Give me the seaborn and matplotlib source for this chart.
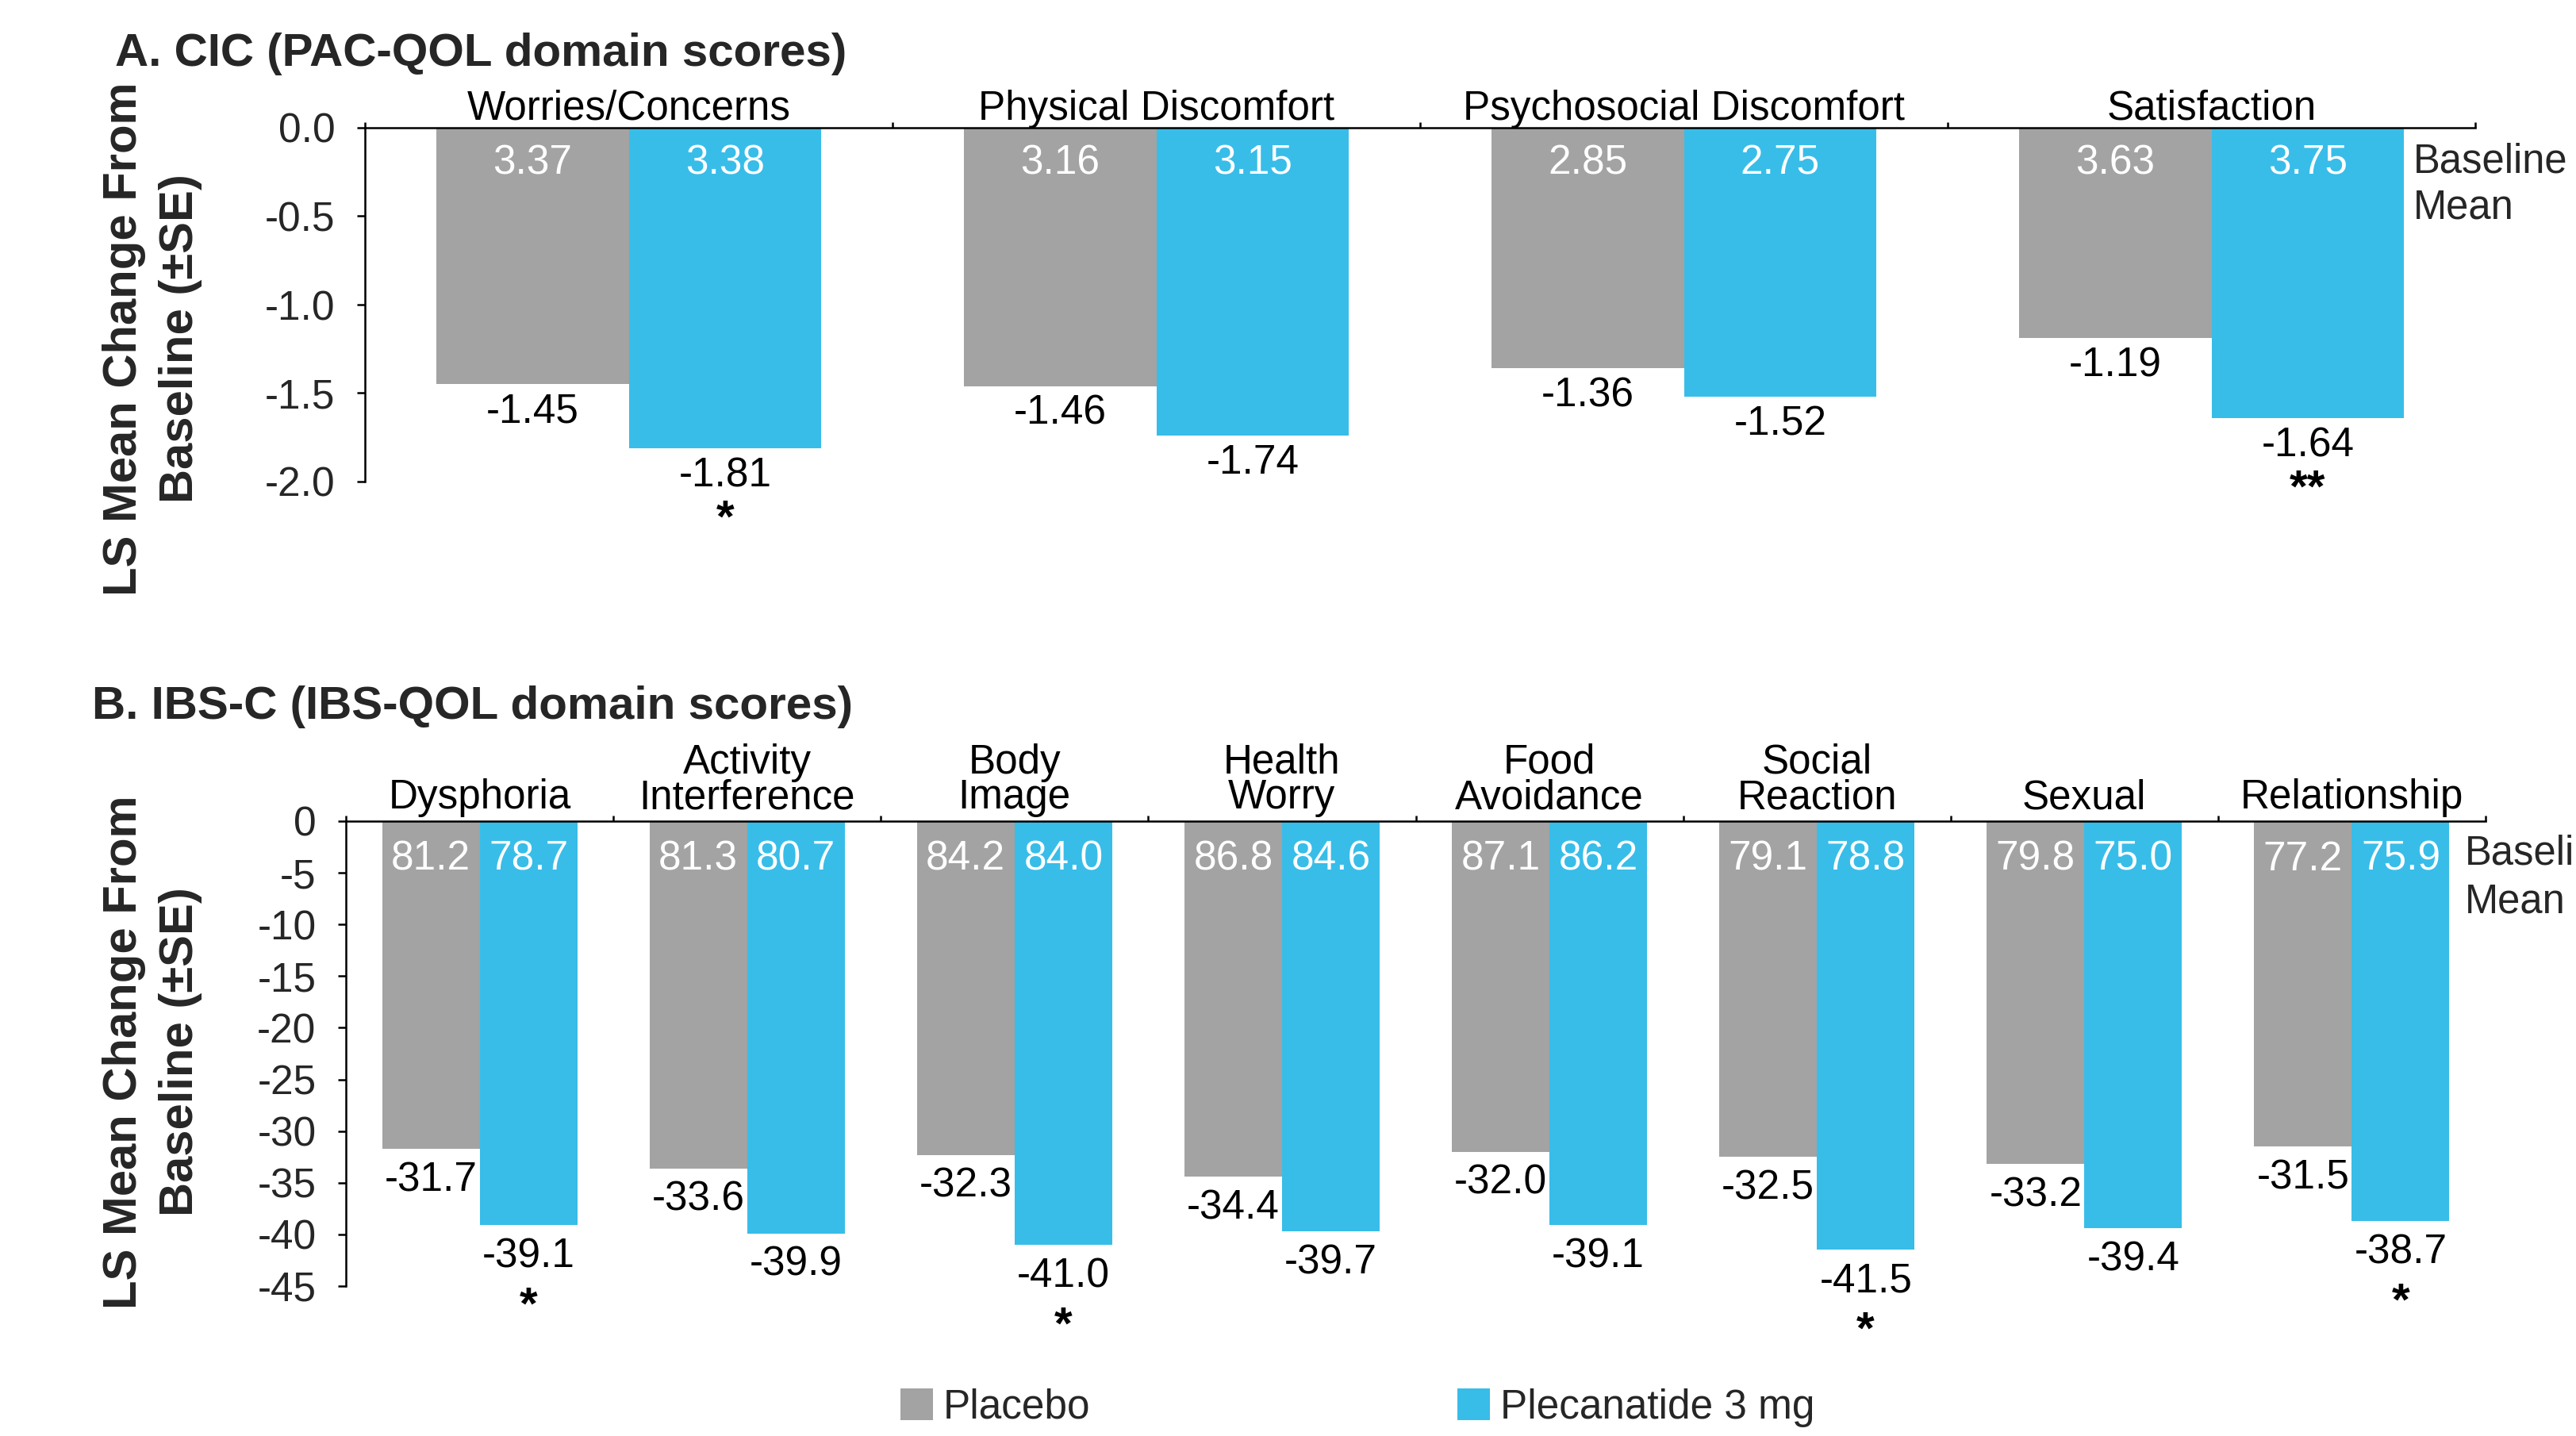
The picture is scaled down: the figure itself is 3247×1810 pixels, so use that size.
import numpy as np
import pandas as pd
import matplotlib
matplotlib.use("Agg")
import matplotlib.pyplot as plt
from matplotlib.ticker import FormatStrFormatter
import seaborn as sns

# ---- data -----------------------------------------------------------------
groups = ["Placebo", "Plecanatide 3 mg"]
colors = ["#a2a3a2", "#38bde9"]

cic_domains = ["Worries/Concerns", "Physical Discomfort",
               "Psychosocial Discomfort", "Satisfaction"]
cic_placebo = [-1.45, -1.46, -1.36, -1.19]
cic_plec = [-1.81, -1.74, -1.52, -1.64]
cic_base_placebo = [3.37, 3.16, 2.85, 3.63]
cic_base_plec = [3.38, 3.15, 2.75, 3.75]
cic_sig_plec = ["*", "", "", "**"]
cic_yticks = [0.0, -0.5, -1.0, -1.5, -2.0]

ibs_domains = ["Dysphoria", "Activity\nInterference", "Body\nImage",
               "Health\nWorry", "Food\nAvoidance", "Social\nReaction",
               "Sexual", "Relationship"]
ibs_placebo = [-31.7, -33.6, -32.3, -34.4, -32.0, -32.5, -33.2, -31.5]
ibs_plec = [-39.1, -39.9, -41.0, -39.7, -39.1, -41.5, -39.4, -38.7]
ibs_base_placebo = [81.2, 81.3, 84.2, 86.8, 87.1, 79.1, 79.8, 77.2]
ibs_base_plec = [78.7, 80.7, 84.0, 84.6, 86.2, 78.8, 75.0, 75.9]
ibs_sig_plec = ["*", "", "*", "", "", "*", "", "*"]
ibs_yticks = [0, -5, -10, -15, -20, -25, -30, -35, -40, -45]

# ---- style ----------------------------------------------------------------
sns.set_theme(style="white")
plt.rcParams["font.family"] = ["Liberation Sans", "DejaVu Sans"]
plt.rcParams["axes.unicode_minus"] = False

W, H = 3247, 1810
fig = plt.figure(figsize=(W / 100, H / 100), dpi=100)

LW = 1.8
FS = 37
NAME_FS = 36.8


def panel(rect, domains, placebo, plec, base_p, base_q, sig, yticks,
          val_fmt, tick_fmt, label_gap, star_gap, inner_gap,
          name_offset, legend):
    ax = fig.add_axes(rect)
    n = len(domains)
    df = pd.DataFrame({
        "domain": list(domains) * 2,
        "group": [groups[0]] * n + [groups[1]] * n,
        "change": list(placebo) + list(plec),
    })
    sns.barplot(data=df, x="domain", y="change", hue="group",
                hue_order=groups, palette=colors, saturation=1,
                width=0.73, gap=0, errorbar=None, linewidth=0,
                legend=legend, ax=ax)

    ax.set_xlim(-0.5, n - 0.5)
    ax.set_ylim(yticks[-1], 0)
    ax.set_xlabel("")
    ax.set_ylabel("")

    # axis line sits on top at zero, boundary ticks point upward
    ax.xaxis.set_ticks_position("top")
    ax.set_xticks(np.arange(-0.5, n, 1.0))
    ax.tick_params(axis="x", which="both", direction="out", length=5,
                   width=LW, color="black", labeltop=False,
                   labelbottom=False)
    ax.set_yticks(yticks)
    ax.yaxis.set_major_formatter(FormatStrFormatter(tick_fmt))
    ax.tick_params(axis="y", direction="out", length=7, width=LW,
                   color="black", pad=20, labelsize=FS, left=True)
    for side in ("bottom", "right"):
        ax.spines[side].set_visible(False)
    for side in ("top", "left"):
        ax.spines[side].set_visible(True)
        ax.spines[side].set_linewidth(LW)
        ax.spines[side].set_color("black")

    # domain names above the axis line
    for i, name in enumerate(domains):
        ax.annotate(name, xy=(i, 0), xytext=(0, name_offset),
                    textcoords="offset points", ha="center", va="bottom",
                    multialignment="center", linespacing=0.88,
                    fontsize=NAME_FS, color="black", annotation_clip=False)

    values = [placebo, plec]
    bases = [base_p, base_q]
    for g, cont in enumerate(ax.containers):
        for i, bar in enumerate(cont):
            x = bar.get_x() + bar.get_width() / 2
            v = values[g][i]
            ax.annotate(val_fmt % v, xy=(x, v), xytext=(0, -label_gap),
                        textcoords="offset points", ha="center", va="top",
                        fontsize=FS, color="black", annotation_clip=False)
            ax.annotate(val_fmt % bases[g][i], xy=(x, 0),
                        xytext=(0, -inner_gap), textcoords="offset points",
                        ha="center", va="top", fontsize=FS, color="white",
                        annotation_clip=False)
            if g == 1 and sig[i]:
                ax.annotate(sig[i], xy=(x, v), xytext=(0, -star_gap),
                            textcoords="offset points", ha="center",
                            va="top", fontsize=42, fontweight="bold",
                            color="black", annotation_clip=False)
    return ax


ax_a = panel([460 / W, 1 - 607 / H, (3120 - 460) / W, (607 - 161) / H],
             cic_domains, cic_placebo, cic_plec, cic_base_placebo,
             cic_base_plec, cic_sig_plec, cic_yticks,
             "%.2f", "%.1f", 7.5, 46, 15, -0.5, legend=True)

ax_b = panel([436 / W, 1 - 1621 / H, (3133 - 436) / W, (1621 - 1035) / H],
             ibs_domains, ibs_placebo, ibs_plec, ibs_base_placebo,
             ibs_base_plec, ibs_sig_plec, ibs_yticks,
             "%.1f", "%d", 11, 55, 17, 3.5, legend=False)

# shared legend along the bottom edge
leg = ax_a.get_legend()
handles = leg.legend_handles
labels = [t.get_text() for t in leg.get_texts()]
leg.remove()
fig.legend(handles, labels, loc="center left",
           bbox_to_anchor=(1135 / W, 1 - 1774 / H), ncol=2, frameon=False,
           fontsize=37, handlelength=0.8, handleheight=0.82,
           handletextpad=0.25, columnspacing=9.0, borderpad=0,
           borderaxespad=0)

# panel titles
fig.text(145 / W, 1 - 83 / H, "A. CIC (PAC-QOL domain scores)",
         fontsize=42, fontweight="bold", ha="left", va="baseline")
fig.text(116 / W, 1 - 906 / H, "B. IBS-C (IBS-QOL domain scores)",
         fontsize=42, fontweight="bold", ha="left", va="baseline")

# y-axis titles
for yc in (427, 1326):
    fig.text(192 / W, 1 - yc / H, "LS Mean Change From\nBaseline (±SE)",
             rotation=90, ha="center", va="center", multialignment="center",
             fontsize=43, fontweight="bold", linespacing=1.39)

# baseline-mean captions beside the bars
for x0, y1, y2 in ((3042, 217, 276), (3107, 1090, 1150)):
    fig.text(x0 / W, 1 - y1 / H, "Baseline", fontsize=36.5, ha="left",
             va="baseline")
    fig.text(x0 / W, 1 - y2 / H, "Mean", fontsize=36.5, ha="left",
             va="baseline")

fig.savefig("out.png", dpi=100, facecolor="white")
